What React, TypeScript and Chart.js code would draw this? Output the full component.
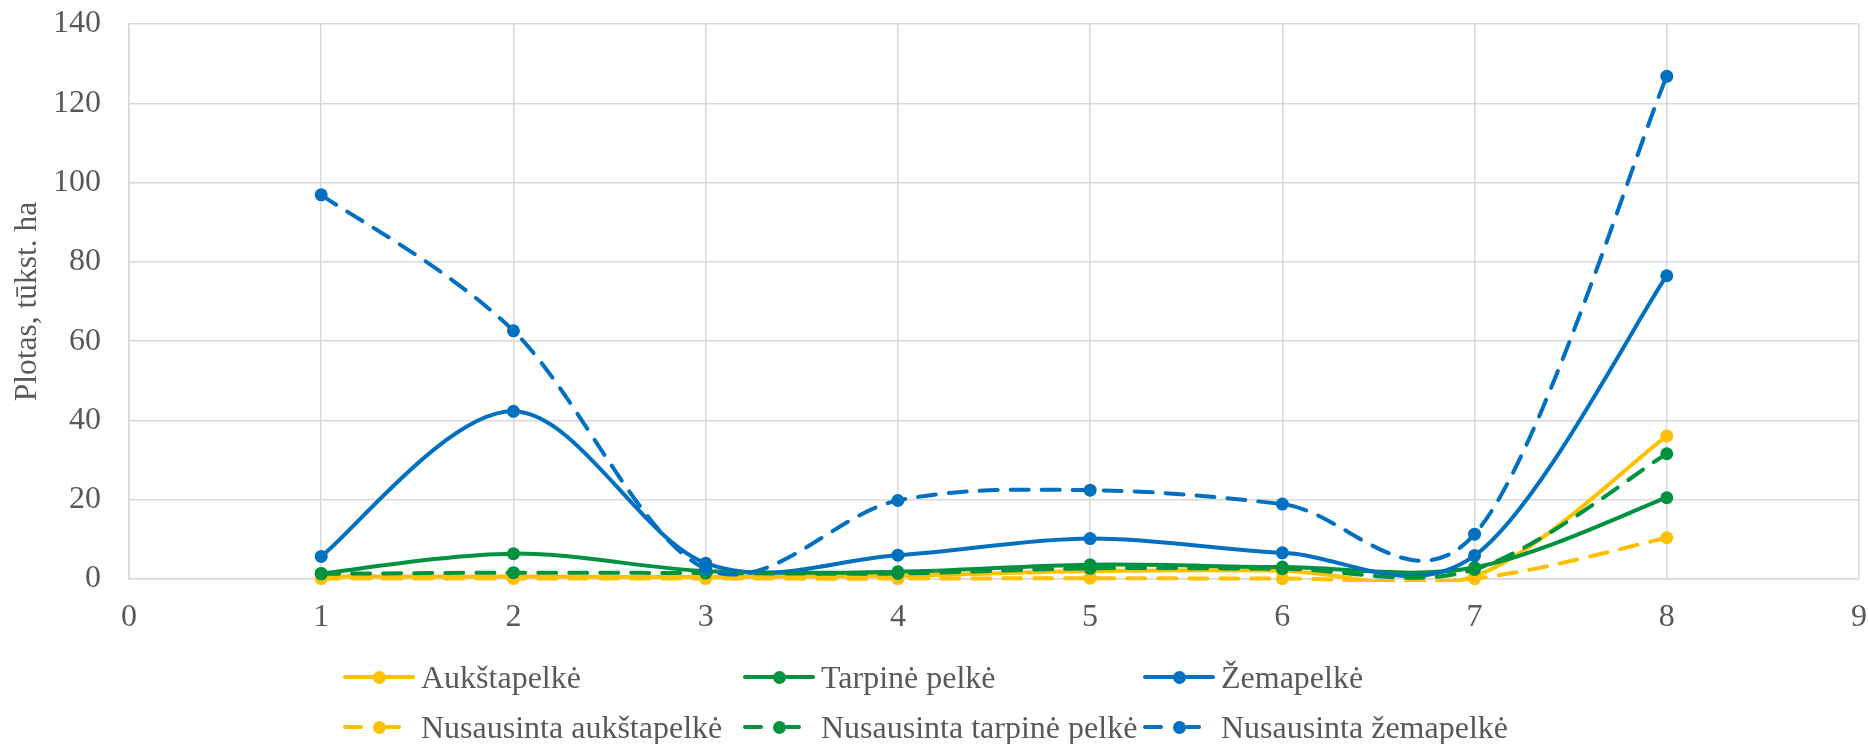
import React, { useEffect, useRef } from "react";
import { Chart, registerables } from "chart.js";

Chart.register(...registerables);

// ---- Data ----
const xValues = [1, 2, 3, 4, 5, 6, 7, 8];
const seriesNames = [
  "Aukštapelkė",
  "Tarpinė pelkė",
  "Žemapelkė",
  "Nusausinta aukštapelkė",
  "Nusausinta tarpinė pelkė",
  "Nusausinta žemapelkė",
];
const aukstapelke = [0.6, 0.6, 0.5, 0.8, 2.0, 2.1, 0.7, 36.1];
const tarpinePelke = [1.4, 6.4, 2.0, 1.8, 3.6, 3.0, 2.9, 20.5];
const zemapelke = [5.7, 42.3, 4.0, 6.0, 10.2, 6.6, 5.9, 76.5];
const nusausintaAukstapelke = [0.1, 0.1, 0.1, 0.1, 0.2, 0.1, 0.1, 10.4];
const nusausintaTarpine = [1.3, 1.6, 1.5, 1.4, 2.7, 2.6, 2.4, 31.6];
const nusausintaZemapelke = [96.9, 62.6, 2.6, 19.8, 22.4, 18.9, 11.3, 126.8];
const seriesValues = [
  aukstapelke,
  tarpinePelke,
  zemapelke,
  nusausintaAukstapelke,
  nusausintaTarpine,
  nusausintaZemapelke,
];
const yAxisTitle = "Plotas, tūkst. ha";

// ---- Styles ----
const YELLOW = "#FFC000";
const GREEN = "#00923F";
const BLUE = "#0070C0";
const seriesColors = [YELLOW, GREEN, BLUE, YELLOW, GREEN, BLUE];
const FONT = "'Liberation Serif', 'Times New Roman', serif";
const TEXT = "#595959";
const GRID = "#d9d9d9";

// Excel-like smoothing (uniform Catmull-Rom)
const excelSmooth = {
  id: "excelSmooth",
  beforeDatasetsDraw(chart: any) {
    chart.data.datasets.forEach((_ds: any, i: number) => {
      const meta = chart.getDatasetMeta(i);
      if (!meta) return;
      const line = meta.dataset;
      if (line && typeof line.updateControlPoints === "function") {
        line.updateControlPoints(chart.chartArea, meta.iScale ? meta.iScale.axis : "x");
      }
      const pts = meta.data;
      const n = pts.length;
      for (let k = 0; k < n; k++) {
        const p = pts[k];
        const prev = pts[Math.max(0, k - 1)];
        const next = pts[Math.min(n - 1, k + 1)];
        const tx = (next.x - prev.x) / 6;
        const ty = (next.y - prev.y) / 6;
        p.cp1x = p.x - tx;
        p.cp1y = p.y - ty;
        p.cp2x = p.x + tx;
        p.cp2y = p.y + ty;
      }
    });
  },
};

function Marker({ color, dashed }: { color: string; dashed: boolean }) {
  const seg = (left: number, width: number) => (
    <div
      style={{
        position: "absolute",
        left,
        top: 5,
        width,
        height: 4,
        borderRadius: 2,
        background: color,
      }}
    />
  );
  return (
    <div style={{ position: "relative", width: 72, height: 14, flex: "none" }}>
      {dashed ? (
        <>
          {seg(0, 20)}
          {seg(42, 16)}
        </>
      ) : (
        seg(0, 72)
      )}
      <div
        style={{
          position: "absolute",
          left: 36 - 6.5,
          top: 0.5,
          width: 13,
          height: 13,
          borderRadius: "50%",
          background: color,
        }}
      />
    </div>
  );
}

export default function App() {
  const ref = useRef<HTMLCanvasElement | null>(null);

  useEffect(() => {
    document.body.style.margin = "0";
    const ctx = ref.current;
    if (!ctx) return;
    const datasets: any[] = [];
    seriesNames.forEach((name, i) => {
      const pts = xValues.map((x, j) => ({ x, y: seriesValues[i][j] }));
      // line (clipped at plot area like Excel)
      datasets.push({
        label: name,
        data: pts,
        borderColor: seriesColors[i],
        backgroundColor: seriesColors[i],
        pointRadius: 0,
        pointHoverRadius: 0,
        borderWidth: 4,
        borderDash: i >= 3 ? [18, 13] : [],
        borderCapStyle: "round",
        borderJoinStyle: "round",
        tension: 0.33,
        fill: false,
        clip: { left: false, top: false, right: false, bottom: 3 },
        order: 2 * (6 - i) + 1,
      });
      // markers (not clipped)
      datasets.push({
        label: name + " markers",
        data: pts,
        showLine: false,
        borderColor: seriesColors[i],
        backgroundColor: seriesColors[i],
        pointBackgroundColor: seriesColors[i],
        pointBorderWidth: 0,
        pointRadius: 6.5,
        pointHoverRadius: 6.5,
        clip: false,
        order: 2 * (6 - i),
      });
    });
    const chart = new Chart(ctx, {
      type: "line",
      data: { datasets },
      options: {
        responsive: false,
        animation: false,
        layout: { padding: { top: 24, right: 9, left: 0, bottom: 0 } },
        plugins: {
          legend: { display: false },
          title: { display: false },
          tooltip: { enabled: false },
        },
        scales: {
          x: {
            type: "linear",
            min: 0,
            max: 9,
            ticks: {
              stepSize: 1,
              color: TEXT,
              font: { family: FONT, size: 32 },
              padding: 19,
            },
            grid: { color: GRID, lineWidth: 1.5, drawTicks: false },
            border: { color: GRID, width: 1.5 },
            afterFit: (s: any) => {
              s.height = 165;
              s.paddingLeft = 0;
              s.paddingRight = 0;
              s.paddingTop = 0;
              s.paddingBottom = 0;
            },
          },
          y: {
            min: 0,
            max: 140,
            ticks: {
              stepSize: 20,
              color: TEXT,
              font: { family: FONT, size: 32 },
              padding: 28,
            },
            grid: { color: GRID, lineWidth: 1.5, drawTicks: false },
            border: { color: GRID, width: 1.5 },
            title: {
              display: true,
              text: yAxisTitle,
              color: TEXT,
              font: { family: FONT, size: 31.5, weight: "normal" },
              padding: { top: 9, bottom: 0 },
            },
            afterFit: (s: any) => {
              s.width = 129;
              s.paddingLeft = 0;
              s.paddingRight = 0;
              s.paddingTop = 0;
              s.paddingBottom = 0;
            },
          },
        },
      } as any,
      plugins: [excelSmooth],
    });
    return () => chart.destroy();
  }, []);

  const cols = [343, 743, 1143];
  const rows = [677, 727];

  return (
    <div
      style={{
        position: "relative",
        width: 1868,
        height: 744,
        background: "#fff",
        fontFamily: FONT,
        overflow: "hidden",
      }}
    >
      <canvas
        ref={ref}
        width={1868}
        height={744}
        style={{ display: "block", width: 1868, height: 744 }}
      />
      {seriesNames.map((name, i) => (
        <div
          key={name}
          style={{
            position: "absolute",
            left: cols[i % 3],
            top: rows[Math.floor(i / 3)] - 20,
            height: 40,
            display: "flex",
            alignItems: "center",
            whiteSpace: "nowrap",
          }}
        >
          <Marker color={seriesColors[i]} dashed={i >= 3} />
          <span style={{ marginLeft: 6, fontSize: 32, color: TEXT, lineHeight: "40px" }}>
            {name}
          </span>
        </div>
      ))}
    </div>
  );
}
